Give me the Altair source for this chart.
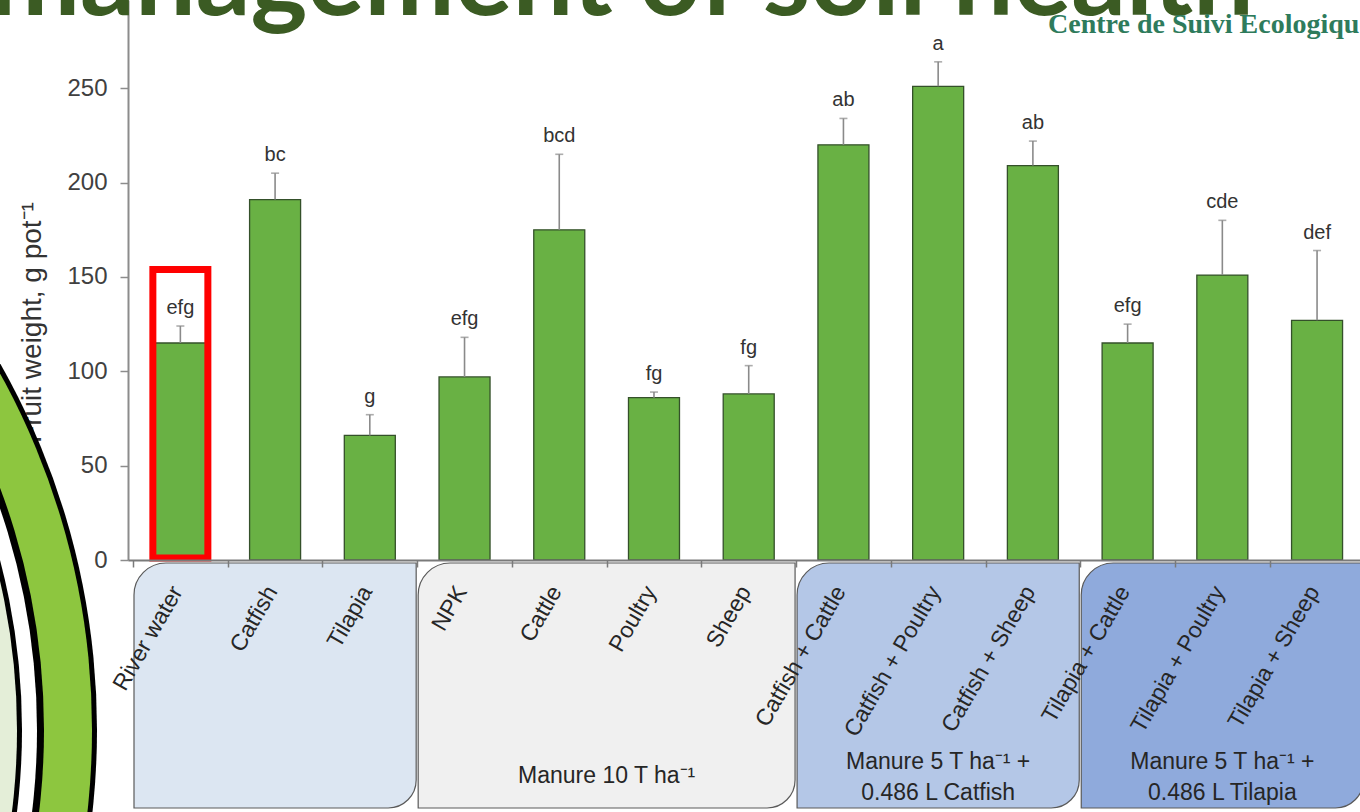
import altair as alt
import pandas as pd

# ---- data -------------------------------------------------------------
treatments = [
    "River water", "Catfish", "Tilapia",
    "NPK", "Cattle", "Poultry", "Sheep",
    "Catfish + Cattle", "Catfish + Poultry", "Catfish + Sheep",
    "Tilapia + Cattle", "Tilapia + Poultry", "Tilapia + Sheep",
]
fruit_weight = [115, 191, 66, 97, 175, 86, 88, 220, 251, 209, 115, 151, 127]
error_upper = [124, 205, 77, 118, 215, 89, 103, 234, 264, 222, 125, 180, 164]
letters = ["efg", "bc", "g", "efg", "bcd", "fg", "fg",
           "ab", "a", "ab", "efg", "cde", "def"]

group_sizes = [3, 4, 3, 3]
group_labels = [
    "",
    "Manure  10 T ha\u207b\u00b9",
    "Manure  5 T ha\u207b\u00b9 +\n0.486 L Catfish",
    "Manure  5 T ha\u207b\u00b9 +\n0.486 L Tilapia",
]
group_colors = ["#dce6f2", "#f0f0f0", "#b4c7e7", "#8faadc"]

highlight = "River water"
highlight_top = 154

y_ticks = [0, 50, 100, 150, 200, 250]
y_title = "Fruit weight, g pot\u207b\u00b9"
title_text = "management of soil health"
logo_text = "Centre de Suivi Ecologique"

# ---- layout -----------------------------------------------------------
PAD_L, PAD_B = 128, 252
W, H = 1360 - PAD_L, 812 - PAD_B
BAND = 95.5                      # pixels per treatment slot
N = len(treatments)
FONT = "Liberation Sans"

bars = pd.DataFrame({
    "treatment": treatments,
    "pos": [i + 0.5 for i in range(N)],
    "weight": fruit_weight,
    "upper": error_upper,
    "letter": letters,
})

starts, s = [], 0
for g in group_sizes:
    starts.append(s)
    s += g
groups = pd.DataFrame({
    "start": starts,
    "end": [a + b for a, b in zip(starts, group_sizes)],
    "label": group_labels,
    "color": group_colors,
})
groups["center"] = (groups["start"] + groups["end"]) / 2
groups["lines"] = groups["label"].str.count("\n") + 1

hl = bars[bars["treatment"] == highlight].assign(top=highlight_top, bottom=1)

# the last slot runs past the right edge of the plot
x_scale = alt.Scale(domain=[0, W / BAND], nice=False, zero=False)
y_scale = alt.Scale(domain=[0, H / 1.887], nice=False)

x_axis = alt.Axis(values=list(range(N)), labels=False, title=None,
                  tickSize=7, tickColor="#7a7a7a", tickWidth=1.5,
                  domainColor="#7a7a7a", domainWidth=2, grid=False, zindex=1)
y_axis = alt.Axis(values=y_ticks, title=y_title, grid=False,
                  titleFont=FONT, titleFontSize=28, titleFontWeight="normal",
                  titleColor="#333333", titleX=-88, titleY=322,
                  titleAngle=270, titleAlign="center", titleBaseline="alphabetic",
                  labelFont=FONT, labelFontSize=24, labelColor="#404040",
                  labelPadding=13, tickSize=8, tickColor="#8c8c8c", tickWidth=1.5,
                  domainColor="#8c8c8c", domainWidth=2)

X = alt.X("pos:Q", scale=x_scale, axis=x_axis)

# group boxes under the axis
boxes = alt.Chart(groups).mark_rect(
    stroke="#5a5a5a", strokeWidth=1.2,
    cornerRadiusTopLeft=32, cornerRadiusBottomRight=28,
    xOffset=1, x2Offset=-1,
).encode(
    x=alt.X("start:Q", scale=x_scale),
    x2="end:Q",
    y=alt.value(563),
    y2=alt.value(808),
    fill=alt.Fill("color:N", scale=None),
)

one_line = groups[groups["lines"] == 1]
two_line = groups[groups["lines"] == 2]
text_style = dict(font=FONT, fontSize=23, color="#262626", lineBreak="\n",
                  lineHeight=31, align="center", baseline="middle")
group_text_1 = alt.Chart(one_line[one_line["label"] != ""]).mark_text(**text_style).encode(
    x=alt.X("center:Q", scale=x_scale), y=alt.value(776), text="label:N")
group_text_2 = alt.Chart(two_line).mark_text(**text_style).encode(
    x=alt.X("center:Q", scale=x_scale), y=alt.value(762), text="label:N")

cat_text = alt.Chart(bars).mark_text(
    font=FONT, fontSize=23, color="#262626", angle=300,
    align="right", baseline="middle", xOffset=-3,
).encode(x=X, y=alt.value(588), text="treatment:N")

bar_marks = alt.Chart(bars).mark_bar(
    width=51, orient="vertical", color="#69b144",
    stroke="#34502a", strokeWidth=1.3,
).encode(x=X, y=alt.Y("weight:Q", scale=y_scale, axis=y_axis, stack=None))

err = alt.Chart(bars).mark_rule(color="#8a8a8a", strokeWidth=1.6).encode(
    x=X, y=alt.Y("weight:Q", scale=y_scale), y2="upper:Q")

caps = alt.Chart(bars).mark_tick(
    orient="horizontal", size=8, thickness=1.6, color="#8a8a8a",
).encode(x=X, y=alt.Y("upper:Q", scale=y_scale))

letter_text = alt.Chart(bars).mark_text(
    font=FONT, fontSize=20, color="#333333", dy=-12, baseline="alphabetic",
).encode(x=X, y=alt.Y("upper:Q", scale=y_scale), text="letter:N")

frame = alt.Chart(hl).mark_bar(
    width=55, orient="vertical", fillOpacity=0,
    stroke="#ff0000", strokeWidth=7,
).encode(x=X, y=alt.Y("top:Q", scale=y_scale), y2="bottom:Q")

# decorative concentric rings at the left edge
one = pd.DataFrame({"k": [0]})
ring_radii = [742, 737, 689, 682, 667, 662]
ring_colors = ["#000000", "#8dc63f", "#000000", "#ffffff", "#000000", "#e4eed8"]
rings = [
    alt.Chart(one).mark_arc(radius=r, theta=0, theta2=6.2832, color=c)
    .encode(x=alt.value(-773), y=alt.value(730))
    for r, c in zip(ring_radii, ring_colors)
]

title = alt.Chart(one).mark_text(
    text=title_text, font="Lato", fontWeight="bold", fontSize=108,
    color="#3b5b23", align="right", baseline="alphabetic",
).encode(x=alt.value(1126), y=alt.value(15))

logo = alt.Chart(one).mark_text(
    text=logo_text, font="Liberation Serif", fontWeight="bold", fontSize=28,
    color="#2e7b5c", align="left", baseline="alphabetic",
).encode(x=alt.value(920), y=alt.value(33))

chart = alt.layer(
    boxes, group_text_1, group_text_2, cat_text, bar_marks, err, caps,
    letter_text, frame, *rings, title, logo,
).properties(
    width=W, height=H,
    autosize=alt.AutoSizeParams(type="none"),
    padding={"left": PAD_L, "top": 0, "right": 0, "bottom": PAD_B},
    background="white",
).configure_view(stroke=None)

chart.save("out.html", embed_options={"renderer": "svg", "actions": False})
